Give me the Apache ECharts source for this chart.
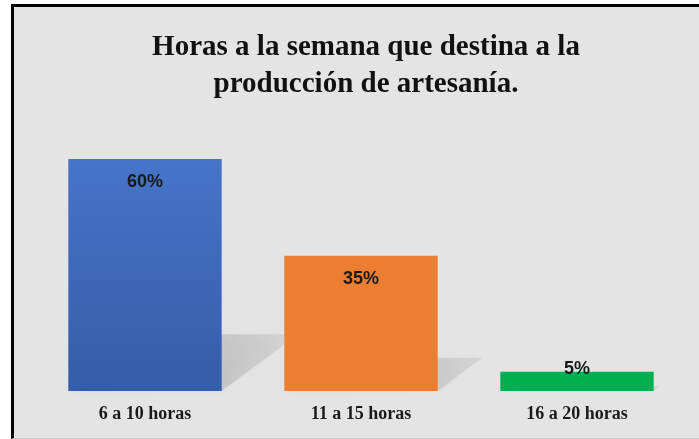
<!DOCTYPE html>
<html>
<head>
<meta charset="utf-8">
<script src="https://cdn.jsdelivr.net/npm/echarts@6/dist/echarts.min.js"></script>
<style>
  html, body { margin: 0; padding: 0; background: #fff; }
  .frame {
    position: absolute; left: 11px; top: 4px; right: 0; bottom: 0;
    background: #e4e4e4;
    border-left: 3px solid #000;
    border-top: 3px solid #000;
    border-bottom: 1px solid #cfcfcf;
  }
  #chart { position: absolute; left: 0; top: 0; width: 699px; height: 439px; }
</style>
</head>
<body>
<div class="frame"></div>
<div id="chart"></div>
<script>
// datos
const categorias = ['6 a 10 horas', '11 a 15 horas', '16 a 20 horas'];
const porcentajes = [60, 35, 5];
const colores = ['blue', '#ED7D31', '#00B050'];

const myChart = echarts.init(document.getElementById('chart'));

const blueGrad = new echarts.graphic.LinearGradient(0, 0, 0, 1, [
  { offset: 0, color: '#4674C7' },
  { offset: 1, color: '#335DA8' }
]);

const barData = porcentajes.map((v, i) => {
  const item = {
    value: v,
    itemStyle: { color: i === 0 ? blueGrad : colores[i] }
  };
  // la barra pequeña lleva la etiqueta encima
  if (v < 10) {
    item.label = { position: 'top', distance: -6 };
  }
  return item;
});

// sombra en perspectiva detras de cada barra
const shadowData = porcentajes.map((v, i) => [i, v]);

const option = {
  animation: false,
  backgroundColor: 'transparent',
  title: {
    text: 'Horas a la semana que destina a la\nproducción de artesanía.',
    left: 361,
    top: 24,
    textAlign: 'center',
    textStyle: {
      fontFamily: 'Liberation Serif',
      fontWeight: 'bold',
      fontSize: 29,
      lineHeight: 37,
      color: '#111'
    }
  },
  grid: { left: 37, right: 14, top: 159, bottom: 48 },
  xAxis: {
    type: 'category',
    data: categorias,
    axisLine: { show: false },
    axisTick: { show: false },
    axisLabel: {
      margin: 14,
      fontFamily: 'Liberation Serif',
      fontWeight: 'bold',
      fontSize: 18,
      color: '#1a1a1a'
    }
  },
  yAxis: {
    type: 'value',
    min: 0,
    max: 60,
    show: false
  },
  series: [
    {
      type: 'custom',
      z: 1,
      silent: true,
      data: shadowData,
      encode: { x: 0, y: 1 },
      renderItem: function(params, api) {
        const base = api.coord([api.value(0), 0]);
        const top = api.coord([api.value(0), api.value(1)]);
        const w = api.size([1, 0])[0] * 0.71;
        const h = base[1] - top[1];
        const xl = base[0] - w / 2;
        const xr = base[0] + w / 2;
        const y0 = base[1];
        const dx = h * 0.33;
        const dh = h * 0.245;
        return {
          type: 'polygon',
          shape: {
            points: [[xl, y0], [xr, y0], [xr + dx, y0 - dh], [xl + dx, y0 - dh]]
          },
          style: {
            fill: new echarts.graphic.LinearGradient(0, 1, 1, 0, [
              { offset: 0, color: 'rgba(0,0,0,0.24)' },
              { offset: 1, color: 'rgba(0,0,0,0.06)' }
            ]),
            shadowBlur: 14,
            shadowColor: 'rgba(0,0,0,0.18)'
          }
        };
      }
    },
    {
      type: 'bar',
      z: 2,
      barCategoryGap: '29%',
      data: barData,
      label: {
        show: true,
        position: 'insideTop',
        distance: 14,
        formatter: '{c}%',
        fontFamily: 'Liberation Sans',
        fontWeight: 'bold',
        fontSize: 18,
        color: '#1a1a1a'
      }
    }
  ]
};

myChart.setOption(option);
</script>
</body>
</html>
